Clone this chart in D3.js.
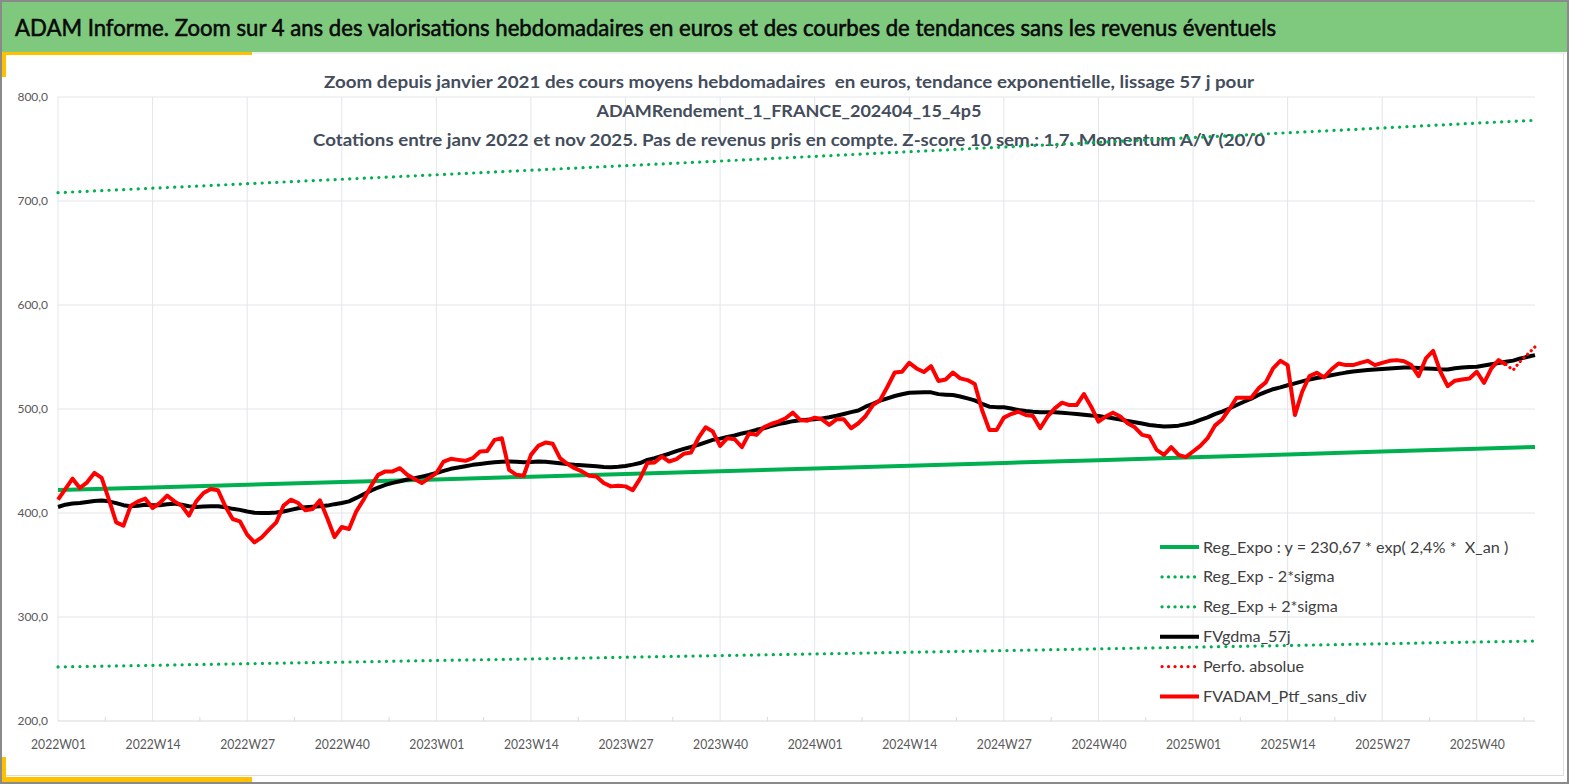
<!DOCTYPE html>
<html>
<head>
<meta charset="utf-8">
<script src="https://cdn.jsdelivr.net/npm/d3@7"></script>
<style>
  body { margin: 0; background: #fff; }
  svg { display: block; font-family: Lato, "Open Sans", sans-serif; }
</style>
</head>
<body>
<svg id="chart"></svg>
<script>
// weeks shown on the category axis
var years = [2022, 2023, 2024, 2025];
var lastWeek2025 = 48;
var categories = [];
years.forEach(function(yr){
  for (var w = 1; w <= 52; w++){
    if (yr == 2025 && w > lastWeek2025) break;
    categories.push(yr + "W" + (w < 10 ? "0" + w : w));
  }
});

var tickLabels = ["2022W01","2022W14","2022W27","2022W40","2023W01","2023W14","2023W27","2023W40",
                  "2024W01","2024W14","2024W27","2024W40","2025W01","2025W14","2025W27","2025W40"];
var yTicks = [200, 300, 400, 500, 600, 700, 800];

// FVADAM_Ptf_sans_div (2022W01 -> 2025W44)
var fvAdam = [
  412.8,423,433,424,429.5,438.5,433.7,412.8,391,387.8,407.1,411.2,413.8,404.8,409.6,416.7,411.2,407.1,397.4,411.2,
  419.2,423.1,421.8,406.4,394.2,392,379.2,371.8,376.6,384,391,407.1,412.8,409.6,402.6,403.8,412.2,395.2,376.9,386.5,
  384.6,401.6,412.8,425.6,436.7,440,440,443.1,436.7,432.6,428.8,433.5,438.3,449.5,452.1,451.1,450.2,452.7,459.1,459.7,
  470.3,471.9,441.5,436.7,435.8,455.9,464.5,467.7,466.5,452.7,447.3,443.1,440,435.8,435.1,428.8,425.6,426.2,425.6,422,
  433,448,448.6,454.3,449.5,451.8,456.9,458.1,471.9,482.4,478.3,464.5,471.9,470.9,463.3,476.7,475.1,482.4,485.6,487.9,
  491.1,496.5,489.5,488.8,491.7,490.1,484.7,490.1,490.1,481.5,486.3,493.3,503.8,508.6,521.4,535.1,535.8,544.4,539,535.5,
  541.2,527,528.4,535.1,529.4,527.8,524,499,479.9,479.9,491.7,495.2,497.4,494.2,493.3,481.5,492.7,500.6,506.1,503.8,
  503.8,514.4,502.2,487.9,492.7,496.5,492.7,486.3,482.4,475.1,473.5,460.7,455.9,463.3,455.9,453.7,459.1,464.5,471.9,484,
  490,500,510.9,510.9,510.9,519.8,525.6,539,546.3,542.2,494.2,516.6,531.6,534.8,530.4,538,543.8,542.2,542.2,544.4,
  546.3,542.2,544.4,546.3,547,546,542.2,531.6,548.6,555.9,535.8,522,527.2,528.4,529.4,535.8,525.2,539,547,542.8
];

// FVgdma_57j (2022W01 -> 2025W48)
var fvGdma = [
  405.8,408,409.2,409.6,410.5,411.5,412,411.2,409.5,407.5,406.4,407,408,407.5,407.5,408.5,409,408,406.5,405.8,
  406.2,406.4,406.4,405.5,404,403,401.5,400.2,400,400,400.5,401.5,403,404.5,405.5,406,406.5,407.1,408.5,409.6,
  411.2,414.5,418,421.5,424.5,427,429,430.5,432.2,433.5,435,436.5,438.5,440.5,442.5,443.8,445,446.3,447.2,448,
  448.9,449.3,449.5,449.2,448.8,449,449.5,449.3,448.6,447.8,447,446.3,445.8,445.4,445,444.3,444.1,444.5,445.2,446.5,
  448,451,452.8,455,457,459.5,461.7,463.5,465.5,468,470.3,471.5,473,474.5,476.5,478,480,481.5,483.5,485.6,
  486.8,488.3,489.2,489.7,490.1,491,492,493.5,495.2,497,498.5,502.2,505,508,510.3,512.5,514.2,515.7,515.8,516,
  516,514.3,513.8,513.4,512,510.2,508.3,505,502.2,501.8,501.6,500.5,499,498,497.3,496.8,496.8,496.8,496.5,495.8,
  495.2,494.5,493.8,493.3,492.2,491.1,489.8,488.5,487.2,486,484.7,483.8,483.1,483.5,484,485.3,486.9,489.5,492,495,
  497.5,500.5,503.8,507,510,513.5,516.5,519,520.8,522.8,524.6,526.5,528.4,529.8,531,532.4,533.8,535,536,536.7,
  537.4,538,538.5,539,539.4,539.8,539.9,539.5,539,538.6,538.2,538,539.2,539.8,540.3,540.6,541.8,543.1,544.2,545.4,
  546.5,548.6,550.2,551.8
];

// Perfo. absolue, only visible at the end of the period
var perfoWeeks = ["2025W44","2025W45","2025W46","2025W47","2025W48"];
var perfoValues = [542.8, 537.4, 546, 552.7, 559.7];

// trend lines read at each labelled week and at the last week
var trendWeeks = tickLabels.concat(["2025W48"]);
var regExpo  = [422,424.5,427.1,429.7,432.3,434.9,437.5,440.1,442.8,445.4,448.1,450.8,453.6,456.3,459.1,461.8,463.5];
var regMinus = [252,253.5,255.1,256.6,258.2,259.7,261.3,262.9,264.5,266.1,267.7,269.4,271,272.6,274.3,276,276.9];
var regPlus  = [708,712.3,716.6,720.9,725.2,729.6,734,738.4,742.9,747.4,751.9,756.4,761,765.6,770.2,774.9,777.6];

var legendLabels = ["Reg_Expo : y = 230,67 * exp( 2,4% *  X_an )", "Reg_Exp - 2*sigma", "Reg_Exp + 2*sigma",
                    "FVgdma_57j", "Perfo. absolue", "FVADAM_Ptf_sans_div"];

var W = 1569, H = 784;
var plot = {left: 58, right: 1535, top: 97, bottom: 721};
var green = "#00B050", red = "#FF0000";
var dotted = "0.1 7.2";

var svg = d3.select("#chart").attr("width", W).attr("height", H);

// frame, title band and yellow accents
svg.append("rect").attr("x", 0).attr("y", 0).attr("width", W).attr("height", H).attr("fill", "#fff");
svg.append("rect").attr("x", 2).attr("y", 2).attr("width", W - 4).attr("height", 50).attr("fill", "#7FC97F");
svg.append("line").attr("x1", 2).attr("x2", W - 3).attr("y1", 53).attr("y2", 53).attr("stroke", "#D9E4D9");
svg.append("line").attr("x1", 6).attr("x2", W - 5).attr("y1", 775.5).attr("y2", 775.5).attr("stroke", "#DCDCDC");
svg.append("line").attr("x1", W - 5.5).attr("x2", W - 5.5).attr("y1", 53).attr("y2", 776).attr("stroke", "#E2E2E2");
svg.append("rect").attr("x", 0).attr("y", 52).attr("width", 252).attr("height", 3).attr("fill", "#FFC000");
svg.append("rect").attr("x", 1).attr("y", 52).attr("width", 5).attr("height", 25).attr("fill", "#FFC000");
svg.append("rect").attr("x", 0).attr("y", 777).attr("width", 252).attr("height", 5).attr("fill", "#FFC000");
svg.append("rect").attr("x", 1).attr("y", 757).attr("width", 5).attr("height", 25).attr("fill", "#FFC000");
svg.append("rect").attr("x", 1).attr("y", 1).attr("width", W - 2).attr("height", H - 2)
  .attr("fill", "none").attr("stroke", "#8A8A8A").attr("stroke-width", 2);

svg.append("text")
  .attr("x", 15).attr("y", 36)
  .attr("font-size", 23.5).attr("fill", "#0A0A0A")
  .attr("stroke", "#0A0A0A").attr("stroke-width", 0.6)
  .attr("textLength", 1261).attr("lengthAdjust", "spacingAndGlyphs")
  .text("ADAM Informe. Zoom sur 4 ans des valorisations hebdomadaires en euros et des courbes de tendances sans les revenus éventuels");

var x = d3.scalePoint().domain(categories).range([plot.left, plot.right]);
var y = d3.scaleLinear().domain([200, 800]).range([plot.bottom, plot.top]);

// gridlines
svg.append("g").selectAll("line").data(yTicks.slice(1)).enter().append("line")
  .attr("x1", plot.left).attr("x2", plot.right)
  .attr("y1", function(d){ return y(d); }).attr("y2", function(d){ return y(d); })
  .attr("stroke", "#E3E5E9").attr("stroke-width", 1);
svg.append("g").selectAll("line").data(tickLabels).enter().append("line")
  .attr("x1", function(d){ return x(d); }).attr("x2", function(d){ return x(d); })
  .attr("y1", plot.top).attr("y2", plot.bottom)
  .attr("stroke", "#E3E5E9").attr("stroke-width", 1);
svg.append("line").attr("x1", plot.left).attr("x2", plot.right)
  .attr("y1", plot.bottom).attr("y2", plot.bottom).attr("stroke", "#D9D9D9");

// small ticks half way between labels
var step = x.step();
var midTicks = tickLabels.map(function(t){ return x(t) + step * 6.5; })
  .filter(function(v){ return v <= plot.right; });
svg.append("g").selectAll("line").data(midTicks).enter().append("line")
  .attr("x1", function(d){ return d; }).attr("x2", function(d){ return d; })
  .attr("y1", plot.bottom - 4).attr("y2", plot.bottom)
  .attr("stroke", "#D9D9D9");

// axes
var fmt = function(d){ return d3.format(".1f")(d).replace(".", ","); };
var yAxis = svg.append("g").attr("transform", "translate(48,0)")
  .call(d3.axisLeft(y).tickValues(yTicks).tickFormat(fmt).tickSize(0).tickPadding(0));
yAxis.select(".domain").remove();
yAxis.selectAll("text").attr("font-size", 12).attr("fill", "#595959").attr("font-family", "Lato, sans-serif");

var xAxis = svg.append("g").attr("transform", "translate(0," + plot.bottom + ")")
  .call(d3.axisBottom(x).tickValues(tickLabels).tickSize(0).tickPadding(19));
xAxis.select(".domain").remove();
xAxis.selectAll("text").attr("font-size", 13).attr("fill", "#595959").attr("font-family", "Lato, sans-serif")
  .attr("textLength", 55).attr("lengthAdjust", "spacingAndGlyphs");

// subtitle
var subLines = [
  {t: "Zoom depuis janvier 2021 des cours moyens hebdomadaires  en euros, tendance exponentielle, lissage 57 j pour", y: 88, w: 930},
  {t: "ADAMRendement_1_FRANCE_202404_15_4p5", y: 117, w: 385},
  {t: "Cotations entre janv 2022 et nov 2025. Pas de revenus pris en compte. Z-score 10 sem.: 1,7. Momentum A/V (20/0", y: 146, w: 952}
];
svg.append("g").selectAll("text").data(subLines).enter().append("text")
  .attr("x", 789).attr("y", function(d){ return d.y; })
  .attr("text-anchor", "middle")
  .attr("font-size", 17).attr("font-weight", "bold").attr("fill", "#434D5C")
  .style("white-space", "pre")
  .attr("textLength", function(d){ return d.w; }).attr("lengthAdjust", "spacingAndGlyphs")
  .text(function(d){ return d.t; });

// series
var line = d3.line()
  .x(function(d){ return x(d[0]); })
  .y(function(d){ return y(d[1]); });

function pairs(keys, vals){
  return vals.map(function(v, i){ return [keys[i], v]; });
}

var g = svg.append("g").attr("fill", "none");
g.append("path").attr("d", line(pairs(trendWeeks, regExpo)))
  .attr("stroke", green).attr("stroke-width", 4);
g.append("path").attr("d", line(pairs(trendWeeks, regMinus)))
  .attr("stroke", green).attr("stroke-width", 3.2).attr("stroke-linecap", "round").attr("stroke-dasharray", dotted);
g.append("path").attr("d", line(pairs(trendWeeks, regPlus)))
  .attr("stroke", green).attr("stroke-width", 3.2).attr("stroke-linecap", "round").attr("stroke-dasharray", dotted);
g.append("path").attr("d", line(pairs(categories, fvGdma)))
  .attr("stroke", "#000").attr("stroke-width", 4).attr("stroke-linejoin", "round");
g.append("path").attr("d", line(pairs(perfoWeeks, perfoValues)))
  .attr("stroke", red).attr("stroke-width", 3.2).attr("stroke-linecap", "round").attr("stroke-dasharray", "0.1 5");
g.append("path").attr("d", line(pairs(categories, fvAdam)))
  .attr("stroke", red).attr("stroke-width", 4).attr("stroke-linejoin", "round");

// legend
var legendStyles = [
  {c: green, dash: null}, {c: green, dash: "0.1 6.4"}, {c: green, dash: "0.1 6.4"},
  {c: "#000", dash: null}, {c: red, dash: "0.1 6.4"}, {c: red, dash: null}
];
var legend = svg.append("g").attr("transform", "translate(1160,547)");
var item = legend.selectAll("g").data(legendLabels).enter().append("g")
  .attr("transform", function(d, i){ return "translate(0," + (i * 29.9) + ")"; });
item.append("line")
  .attr("x1", function(d, i){ return legendStyles[i].dash ? 2 : 0; }).attr("x2", 39)
  .attr("stroke", function(d, i){ return legendStyles[i].c; })
  .attr("stroke-width", function(d, i){ return legendStyles[i].dash ? 3.2 : 4; })
  .attr("stroke-linecap", function(d, i){ return legendStyles[i].dash ? "round" : "butt"; })
  .attr("stroke-dasharray", function(d, i){ return legendStyles[i].dash; });
item.append("text")
  .attr("x", 43).attr("y", 5.5)
  .attr("font-size", 16.2).attr("fill", "#404040")
  .style("white-space", "pre")
  .text(function(d){ return d; });
</script>
</body>
</html>
